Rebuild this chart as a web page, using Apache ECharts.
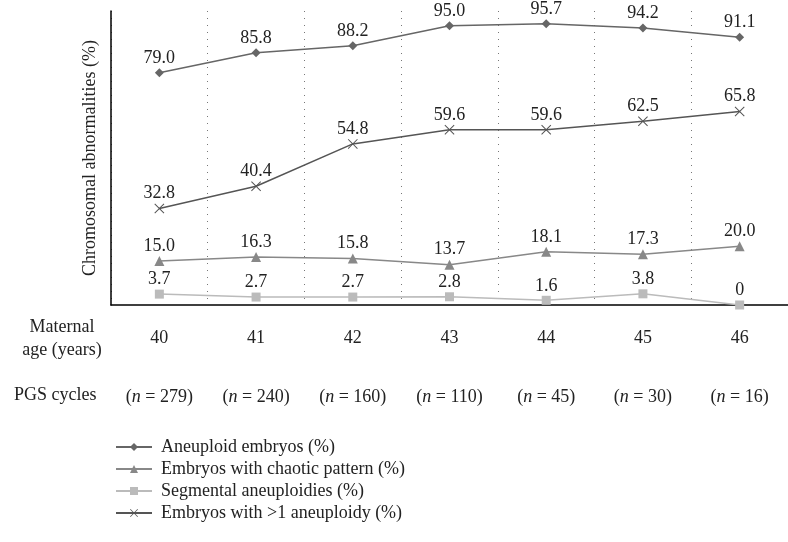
<!DOCTYPE html>
<html><head><meta charset="utf-8">
<script src="https://cdn.jsdelivr.net/npm/echarts@6/dist/echarts.min.js"></script>
<style>html,body{margin:0;padding:0;background:#fff}#c{width:788px;height:542px}</style>
</head><body><div id="c"></div>
<script>
const ages = ['40','41','42','43','44','45','46'];
const cycles = [279, 240, 160, 110, 45, 30, 16];
const aneuploid = [79.0, 85.8, 88.2, 95.0, 95.7, 94.2, 91.1];
const chaotic = [15.0, 16.3, 15.8, 13.7, 18.1, 17.3, 20.0];
const segmental = [3.7, 2.7, 2.7, 2.8, 1.6, 3.8, 0];
const multi = [32.8, 40.4, 54.8, 59.6, 59.6, 62.5, 65.8];

const FONT = '"Liberation Serif", "DejaVu Serif", serif';
const FS = 18;
const chart = echarts.init(document.getElementById('c'));
const crossPath = 'path://M0,0.7L0.7,0L5,4.3L9.3,0L10,0.7L5.7,5L10,9.3L9.3,10L5,5.7L0.7,10L0,9.3L4.3,5Z';
function lbl(v){ return v === 0 ? '0' : v.toFixed(1); }
function mk(name, data, color, symbol, size){
  return {
    name, type:'line', data, symbol, symbolSize:size,
    lineStyle:{color, width:1.5}, itemStyle:{color},
    label:{show:true, position:'top', distance:1, fontFamily:FONT, fontSize:FS, color:'#222',
      formatter:p=>lbl(p.value)},
    animation:false
  };
}
chart.setOption({
  animation:false,
  textStyle:{fontFamily:FONT},
  grid:{left:111, top:11, width:677, height:294, containLabel:false},
  xAxis:[{
    type:'category', data:ages, boundaryGap:true,
    axisLine:{lineStyle:{color:'#000', width:1.5}}, axisTick:{show:false},
    axisLabel:{fontFamily:FONT, fontSize:FS, color:'#222', margin:24, interval:0},
    splitLine:{show:true, lineStyle:{type:[1,6], color:'#777', width:1}}
  },{
    type:'category', data:ages, position:'bottom', offset:75, boundaryGap:true,
    axisLine:{show:false}, axisTick:{show:false}, splitLine:{show:false},
    axisLabel:{fontFamily:FONT, fontSize:FS, color:'#222', interval:0,
      formatter:(v,i)=>'({i|n} = '+cycles[i]+')',
      rich:{i:{fontStyle:'italic', fontFamily:FONT, fontSize:FS, color:'#222'}}}
  }],
  yAxis:{
    type:'value', min:0, max:100,
    name:'Chromosomal abnormalities (%)', nameLocation:'middle', nameGap:12,
    nameTextStyle:{fontFamily:FONT, fontSize:FS, color:'#222'},
    axisLine:{show:true, lineStyle:{color:'#000', width:1.5}}, axisTick:{show:false},
    axisLabel:{show:false}, splitLine:{show:false}
  },
  legend:{
    orient:'vertical', left:110, top:433, itemGap:4, itemWidth:36, itemHeight:10,
    textStyle:{fontFamily:FONT, fontSize:FS, color:'#222', padding:[0,0,0,4]},
    data:['Aneuploid embryos (%)','Embryos with chaotic pattern (%)','Segmental aneuploidies (%)','Embryos with >1 aneuploidy (%)']
  },
  graphic:[
    {type:'text', style:{text:'Maternal\nage (years)', x:62, y:339, align:'center', verticalAlign:'middle', font:FS+'px '+FONT, fill:'#222', lineHeight:23}},
    {type:'text', style:{text:'PGS cycles', x:14, y:395, align:'left', verticalAlign:'middle', font:FS+'px '+FONT, fill:'#222'}}
  ],
  series:[
    mk('Aneuploid embryos (%)', aneuploid, '#666', 'diamond', 9),
    mk('Embryos with chaotic pattern (%)', chaotic, '#888', 'triangle', 10),
    mk('Segmental aneuploidies (%)', segmental, '#bbb', 'rect', 9),
    mk('Embryos with >1 aneuploidy (%)', multi, '#555', crossPath, 10)
  ]
});
</script></body></html>
